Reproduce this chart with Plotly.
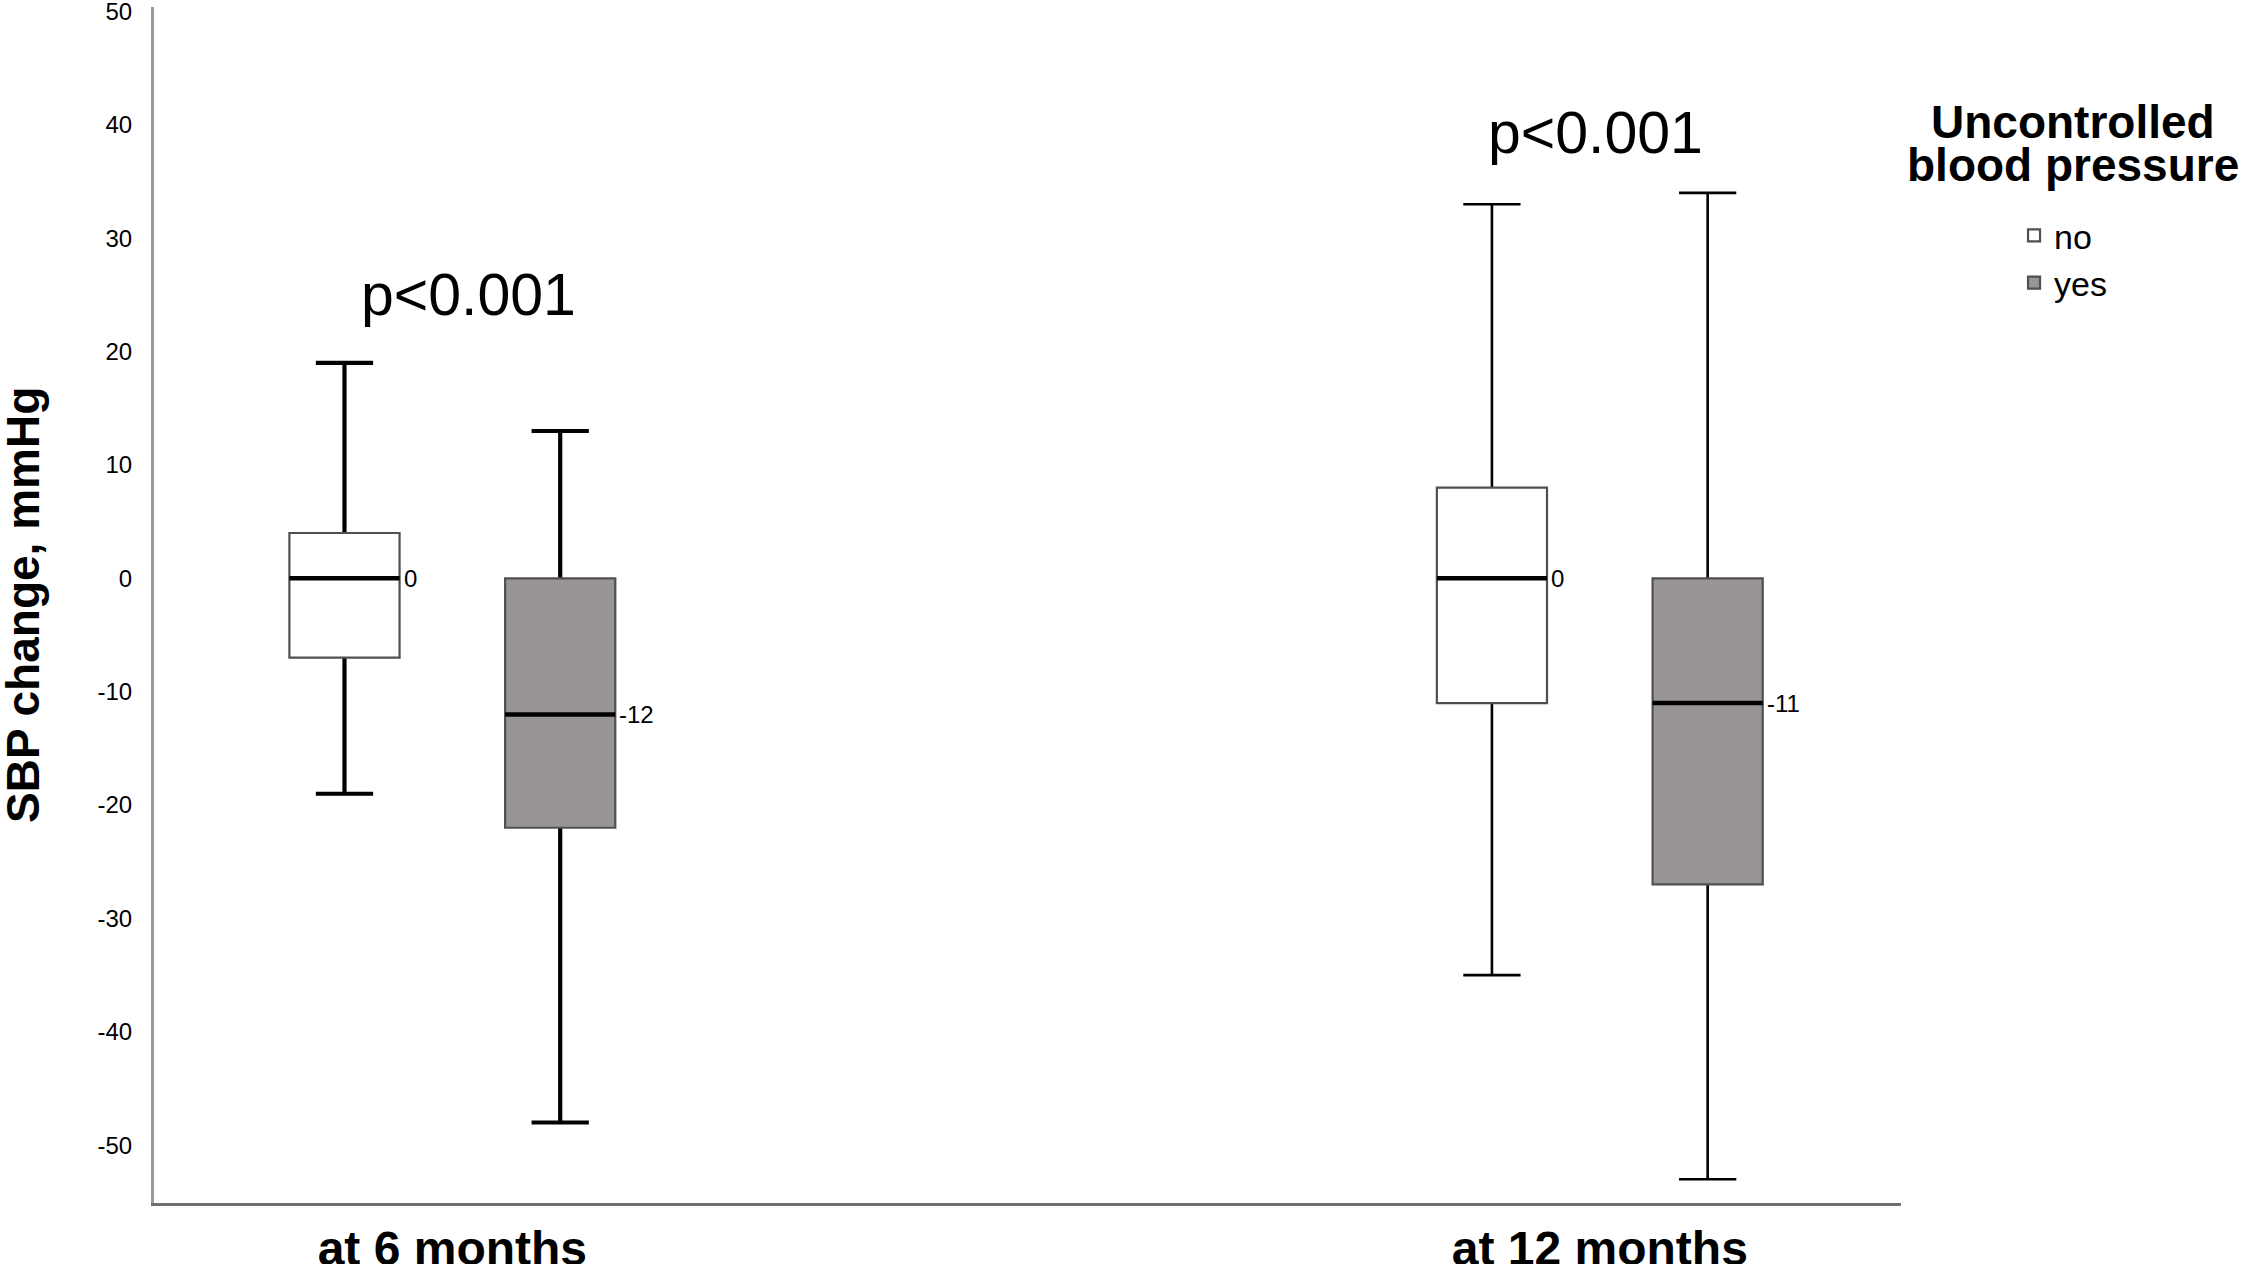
import plotly.graph_objects as go

# SBP change by follow-up visit, split by uncontrolled blood pressure
visits = ['at 6 months', 'at 12 months']
groups = ['no', 'yes']

no_low = [-19, -35]
no_q1 = [-7, -11]
no_median = [0, 0]
no_q3 = [4, 8]
no_high = [19, 33]

yes_low = [-48, -53]
yes_q1 = [-22, -27]
yes_median = [-12, -11]
yes_q3 = [0, 0]
yes_high = [13, 34]

p_labels = ['p<0.001', 'p<0.001']
y_ticks = list(range(-50, 51, 10))

FONT = 'Liberation Sans, Arial, sans-serif'
BOX_W = 0.096
OFFSET = 0.094
fills = {'no': 'white', 'yes': '#999595'}
whisker_w = [4.2, 2.6]   # 6 month whiskers are heavier in the original
p_x = [0.014, 0.996]
p_y = [25, 39.3]

stats = {
    'no': (no_low, no_q1, no_median, no_q3, no_high),
    'yes': (yes_low, yes_q1, yes_median, yes_q3, yes_high),
}

fig = go.Figure()

for grp in groups:
    low, q1, med, q3, high = stats[grp]
    shift = -OFFSET if grp == 'no' else OFFSET
    for vi, visit in enumerate(visits):
        xc = vi + shift
        # whiskers only (collapsed box at the median), black
        fig.add_trace(go.Box(
            x=[xc], lowerfence=[low[vi]], q1=[med[vi]], median=[med[vi]],
            q3=[med[vi]], upperfence=[high[vi]],
            width=BOX_W, whiskerwidth=0.52, boxpoints=False,
            line=dict(color='black', width=whisker_w[vi]),
            showlegend=False, hoverinfo='skip'))
        # the box itself with a thin grey outline
        fig.add_trace(go.Box(
            x=[xc], lowerfence=[q1[vi]], q1=[q1[vi]], median=[med[vi]],
            q3=[q3[vi]], upperfence=[q3[vi]],
            width=BOX_W, whiskerwidth=0, boxpoints=False,
            fillcolor=fills[grp],
            line=dict(color='#505050', width=2.2),
            name=grp, legendgroup=grp, showlegend=(vi == 0),
            hoverinfo='skip'))
        # heavier median bar
        fig.add_shape(type='line', xref='x', yref='y',
                      x0=xc - BOX_W / 2, x1=xc + BOX_W / 2,
                      y0=med[vi], y1=med[vi],
                      line=dict(color='black', width=4.5))
        fig.add_annotation(x=xc + BOX_W / 2, y=med[vi], text=str(med[vi]),
                           xanchor='left', yanchor='middle', showarrow=False,
                           xshift=2, font=dict(family=FONT, size=24, color='black'))

for vi, txt in enumerate(p_labels):
    fig.add_annotation(x=p_x[vi], y=p_y[vi], text=txt, showarrow=False,
                       xanchor='center', yanchor='middle',
                       font=dict(family=FONT, size=59, color='black'))

fig.add_annotation(x=0, y=0.5, xref='paper', yref='paper', xshift=-131,
                   text='<b>SBP change, mmHg</b>', textangle=-90, showarrow=False,
                   xanchor='center', yanchor='middle',
                   font=dict(family=FONT, size=46, color='black'))

# legend title as two centred lines
for line, ypx in [('Uncontrolled', 122), ('blood pressure', 165)]:
    fig.add_annotation(x=1, y=1, xref='paper', yref='paper',
                       xshift=2073 - 1901, yshift=-(ypx - 7),
                       text='<b>' + line + '</b>', showarrow=False,
                       xanchor='center', yanchor='middle',
                       font=dict(family=FONT, size=46, color='black'))

fig.update_layout(
    width=2250, height=1264,
    margin=dict(l=154, r=349, t=7, b=61),
    paper_bgcolor='white', plot_bgcolor='white',
    font=dict(family=FONT, color='black'),
    xaxis=dict(range=[-0.26, 1.2625], tickvals=[0, 1],
               ticktext=['<b>' + v + '</b>' for v in visits],
               tickfont=dict(size=48, family=FONT), showgrid=False, zeroline=False,
               showline=True, linecolor='#6e6e6e', linewidth=2.5, ticks='',
               ticklabelstandoff=2, ticklabeloverflow='allow', automargin=False),
    yaxis=dict(range=[-55.1, 50.4], tickvals=y_ticks,
               ticktext=[str(v) for v in y_ticks],
               tickfont=dict(size=24, family=FONT), showgrid=False, zeroline=False,
               showline=True, linecolor='#9a9a9a', linewidth=3, ticks='',
               ticklabelstandoff=14, ticklabeloverflow='allow', automargin=False),
    legend=dict(x=1.0647, y=0.833, xanchor='left', yanchor='top',
                font=dict(size=34, family=FONT), bgcolor='rgba(0,0,0,0)',
                tracegroupgap=0),
)

fig.write_html('out.html', config={'displayModeBar': False},
               post_script="document.body.style.margin='0';")
